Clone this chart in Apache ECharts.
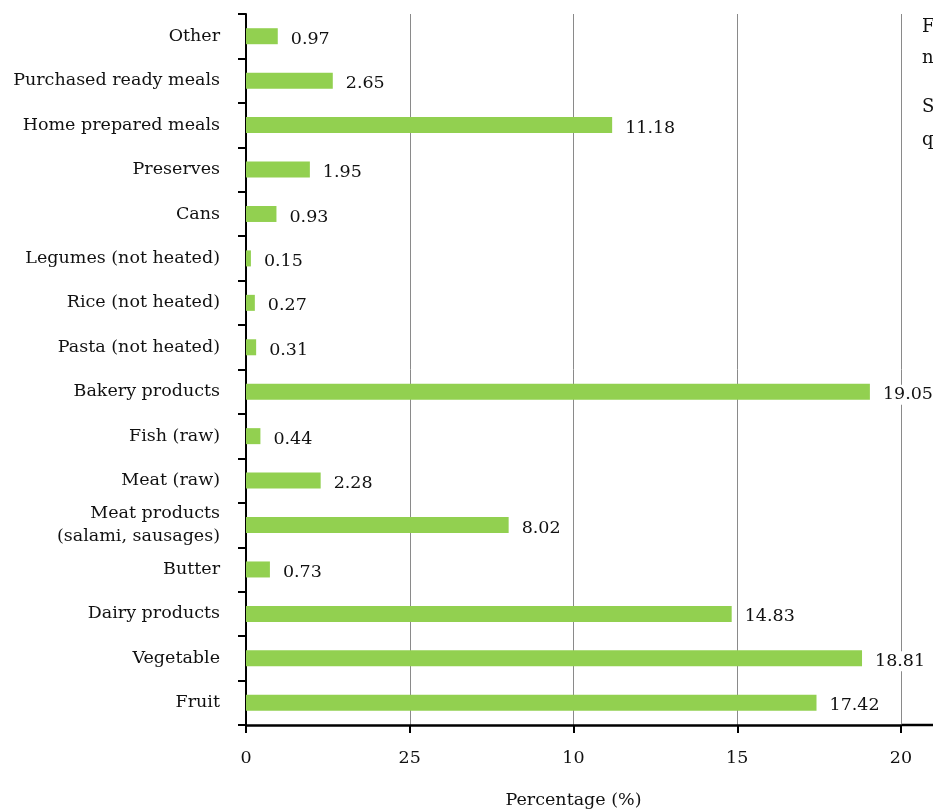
<!DOCTYPE html>
<html>
<head>
<meta charset="utf-8">
<script src="https://cdn.jsdelivr.net/npm/echarts@6/dist/echarts.min.js"></script>
<style>
  html, body { margin: 0; padding: 0; background: #fff; }
  #chart { width: 933px; height: 809px; }
</style>
</head>
<body>
<div id="chart"></div>
<script>
// categories listed bottom to top (category axis starts at the bottom)
const categories = [
  'Fruit', 'Vegetable', 'Dairy products', 'Butter',
  'Meat products\n(salami, sausages)', 'Meat (raw)', 'Fish (raw)',
  'Bakery products', 'Pasta (not heated)', 'Rice (not heated)',
  'Legumes (not heated)', 'Cans', 'Preserves', 'Home prepared meals',
  'Purchased ready meals', 'Other'
]
const values = [17.42, 18.81, 14.83, 0.73, 8.02, 2.28, 0.44, 19.05, 0.31, 0.27, 0.15, 0.93, 1.95, 11.18, 2.65, 0.97]
// tick labels as printed on the original (the second one really reads 25)
const tickLabels = ['0', '25', '10', '15', '20']

const font = '"DejaVu Serif", "Liberation Serif", serif'
const fs = 17.5
const chart = echarts.init(document.getElementById('chart'))

const option = {
  animation: false,
  grid: { left: 246, right: 32, top: 14, bottom: 84, outerBoundsMode: 'none', containLabel: false },
  xAxis: {
    type: 'value',
    min: 0,
    max: 20,
    interval: 5,
    name: 'Percentage (%)',
    nameLocation: 'middle',
    nameGap: 66,
    nameTextStyle: { fontFamily: font, fontSize: fs, color: '#111' },
    axisLine: { show: true, lineStyle: { color: '#000', width: 2.5 } },
    axisTick: { show: true, length: 8, lineStyle: { color: '#000', width: 2 } },
    axisLabel: {
      margin: 24,
      fontFamily: font, fontSize: fs, color: '#111',
      formatter: (v) => tickLabels[Math.round(v / 5)] ?? ''
    },
    splitLine: { show: true, lineStyle: { color: '#8a8a8a', width: 1 } }
  },
  yAxis: {
    type: 'category',
    data: categories,
    axisLine: { show: true, lineStyle: { color: '#000', width: 2 } },
    axisTick: { show: true, length: 8, lineStyle: { color: '#000', width: 2 } },
    axisLabel: {
      margin: 26,
      fontFamily: font, fontSize: fs, color: '#111',
      lineHeight: 23, align: 'right'
    },
    splitLine: { show: false }
  },
  series: [{
    type: 'bar',
    data: values,
    barWidth: 16,
    itemStyle: { color: '#92D050' },
    label: {
      show: true,
      position: 'right',
      distance: 10,
      offset: [0, 3],
      fontFamily: font, fontSize: fs, color: '#111',
      backgroundColor: '#fff',
      padding: [1, 3],
      formatter: (p) => p.value.toFixed(2)
    }
  }],
  graphic: [
    // axis line continues past the last tick to the right edge
    { type: 'line', shape: { x1: 901, y1: 725, x2: 933, y2: 725 }, style: { stroke: '#000', lineWidth: 2.5 } },
    // clipped side text on the right edge
    { type: 'text', left: 922, top: 18, style: { text: 'F', font: '18px ' + font, fill: '#111' } },
    { type: 'text', left: 922, top: 49, style: { text: 'n', font: '18px ' + font, fill: '#111' } },
    { type: 'text', left: 922, top: 98, style: { text: 'S', font: '18px ' + font, fill: '#111' } },
    { type: 'text', left: 922, top: 131, style: { text: 'q', font: '18px ' + font, fill: '#111' } }
  ]
}

chart.setOption(option)
</script>
</body>
</html>
